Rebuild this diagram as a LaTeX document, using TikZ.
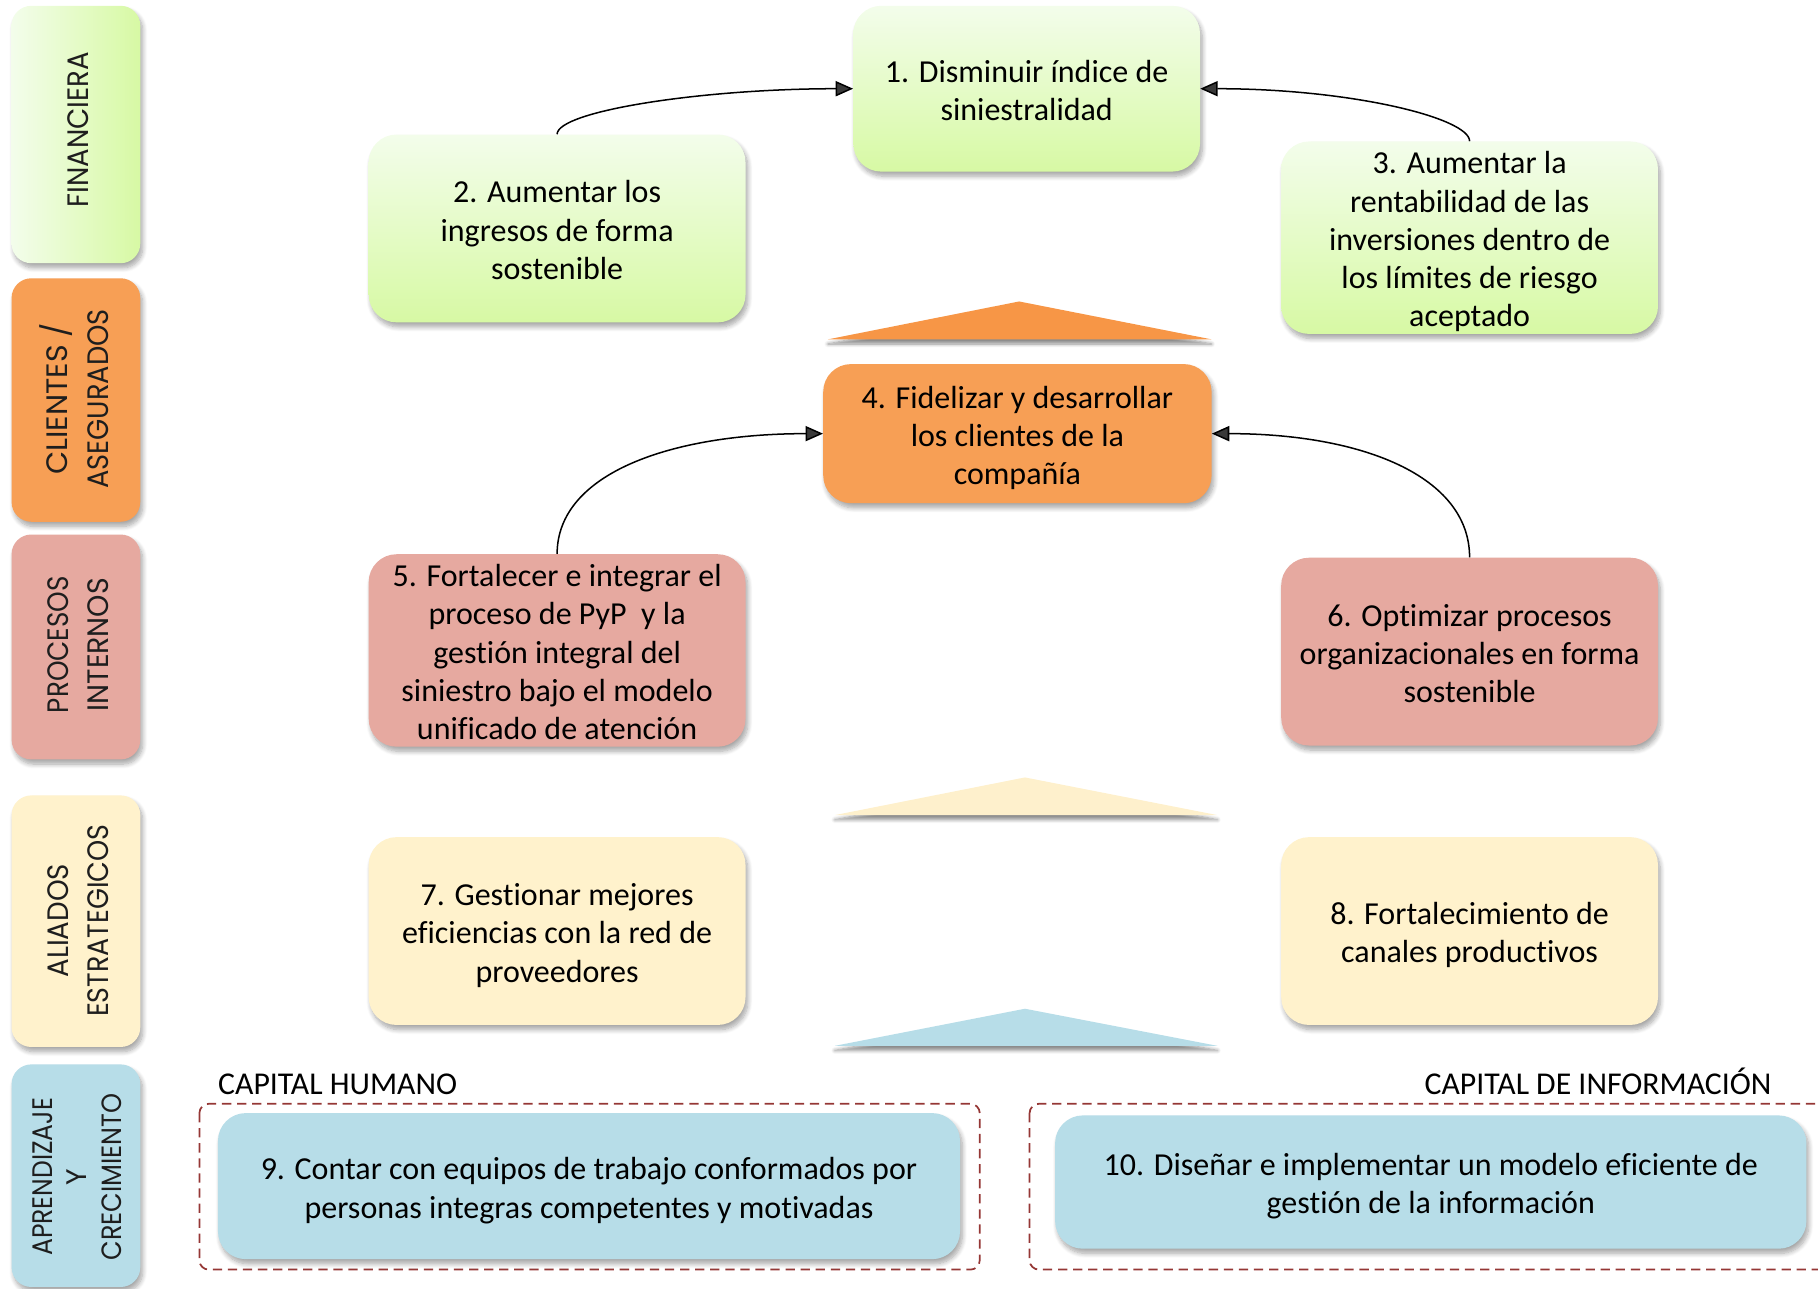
\documentclass[tikz,border=0pt]{standalone}
\usepackage{fontspec}
\setmainfont{Carlito}[Ligatures={NoCommon}]
\newfontfamily\sidefont{Poppins}
\usepackage{graphicx}
\usetikzlibrary{arrows.meta,shadows.blur}

\definecolor{gtop}{HTML}{F3FDEB}
\definecolor{gbot}{HTML}{D7F9A4}
\definecolor{orangebox}{HTML}{F79F55}
\definecolor{orangetri}{HTML}{F79646}
\definecolor{pinkbox}{HTML}{E6A9A0}
\definecolor{creambox}{HTML}{FFF2CC}
\definecolor{creamtri}{HTML}{FEF0CC}
\definecolor{bluebox}{HTML}{B7DDE8}
\definecolor{dashred}{HTML}{953735}
\definecolor{sidetext}{HTML}{1E1E1E}

\newcommand\sidelbl[3]{\resizebox{#1pt}{#2pt}{\sidefont #3}}
\newcommand\topstrut{\rule{0pt}{28pt}}
\newcommand\botstrut{\rule[-6pt]{0pt}{6pt}}

\tikzset{
  shd/.style={blur shadow={shadow xshift=2pt, shadow yshift=-4pt, shadow blur radius=4pt, shadow blur steps=8, shadow opacity=35}},
  goal/.style={shape=rectangle, rounded corners=24pt, align=center, inner sep=0pt,
    font=\fontsize{27.6}{33}\selectfont, text=black, shd},
  greengoal/.style={goal, top color=gtop, bottom color=gbot},
  sidebar/.style={shape=rectangle, rounded corners=17pt, inner sep=0pt, minimum width=111pt, shd},
  sidetxt/.style={rotate=90, align=center, inner sep=0pt, text=sidetext},
  conn/.style={line width=1.3pt, -{Triangle[length=15pt,width=13pt]}},
  dashbox/.style={draw=dashred, line width=1.5pt, dash pattern=on 8pt off 5pt, rounded corners=8pt},
  caplbl/.style={font=\fontsize{27.4}{33}\selectfont, inner sep=0pt},
  tri/.style={blur shadow={shadow xshift=0pt, shadow yshift=-4pt, shadow blur radius=3pt, shadow blur steps=6, shadow opacity=45}}
}

\begin{document}
\begin{tikzpicture}[x=1pt,y=-1pt]
\useasboundingbox (0,0) rectangle (1568,1111.7);

% side bars
\node[sidebar, left color=gtop, right color=gbot, minimum height=222pt] (s1) at (65.5,116) {};
\node[sidebar, fill=orangebox, minimum height=210pt] (s2) at (65.5,345) {};
\node[sidebar, fill=pinkbox, minimum height=194pt] (s3) at (65.5,558) {};
\node[sidebar, fill=creambox, minimum height=217pt] (s4) at (65.5,794.5) {};
\node[sidebar, fill=bluebox, minimum height=192pt] (s5) at (65.5,1014) {};

\node[sidetxt, font=\fontsize{25}{36}\selectfont] (l1) at (67,112) {\sidelbl{134}{18}{FINANCIERA}};
\node[sidetxt, font=\fontsize{25}{36}\selectfont] (l2) at (67,344) {\sidelbl{131}{18}{CLIENTES \smash{/}}\\\sidelbl{155}{18}{ASEGURADOS}};
\node[sidetxt, font=\fontsize{25}{35}\selectfont] (l3) at (67.5,556) {\sidelbl{118}{18}{PROCESOS}\\\sidelbl{115}{18}{INTERNOS}};
\node[sidetxt, font=\fontsize{25}{35}\selectfont] (l4) at (67.5,794) {\sidelbl{98}{18}{ALIADOS}\\\sidelbl{166}{18}{ESTRATEGICOS}};
\node[sidetxt, font=\fontsize{25}{29.5}\selectfont] (l5) at (66.5,1015) {\sidelbl{136}{17}{APRENDIZAJE}\\\resizebox{!}{17pt}{\sidefont Y}\\\sidelbl{144}{17}{CRECIMIENTO}};

% triangles
\fill[orangetri, tri] (714,292.7) -- (879,260) -- (1045,292.7) -- cycle;
\fill[creamtri, tri] (720,703) -- (884,670.5) -- (1050,703) -- cycle;
\fill[bluebox, tri] (720,902) -- (884,870) -- (1050,902) -- cycle;

% goal boxes
\node[greengoal, minimum width=299pt, minimum height=143pt] (b1) at (885.5,76.5)
  {\topstrut 1. Disminuir índice de\\siniestralidad\botstrut};
\node[greengoal, minimum width=325pt, minimum height=162pt] (b2) at (480.5,197)
  {\topstrut 2. Aumentar los\\ingresos de forma\\sostenible\botstrut};
\node[greengoal, minimum width=325pt, minimum height=164pt] (b3) at (1267.5,205)
  {\topstrut 3. Aumentar la\\rentabilidad de las\\inversiones dentro de\\los límites de riesgo\\aceptado\botstrut};
\node[goal, fill=orangebox, minimum width=335pt, minimum height=120pt] (b4) at (877.5,374)
  {\topstrut 4. Fidelizar y desarrollar\\los clientes de la\\compañía\botstrut};
\node[goal, fill=pinkbox, minimum width=325pt, minimum height=162pt] (b5) at (480.5,561)
  {\topstrut 5. Fortalecer e integrar el\\proceso de PyP\ \ y la\\gestión integral del\\siniestro bajo el modelo\\unificado de atención\botstrut};
\node[goal, fill=pinkbox, minimum width=325pt, minimum height=162pt] (b6) at (1267.5,562)
  {\topstrut 6. Optimizar procesos\\organizacionales en forma\\sostenible\botstrut};
\node[goal, fill=creambox, minimum width=325pt, minimum height=162pt] (b7) at (480.5,803)
  {\topstrut 7. Gestionar mejores\\eficiencias con la red de\\proveedores\botstrut};
\node[goal, fill=creambox, minimum width=325pt, minimum height=162pt] (b8) at (1267.5,803)
  {\topstrut 8. Fortalecimiento de\\canales productivos\botstrut};

% dashed groups
\draw[dashbox] (172,952) rectangle (845,1095);
\begin{scope}
\clip (0,0) rectangle (1568,1111.7);
\draw[dashbox] (888,952) rectangle (1600,1095);
\end{scope}

\node[caplbl, anchor=base west] (ch) at (188,944) {CAPITAL HUMANO};
\node[caplbl, anchor=base east] (ci) at (1528,944) {CAPITAL DE INFORMACIÓN};

\node[goal, fill=bluebox, minimum width=640pt, minimum height=126pt] (b9) at (508,1023)
  {\topstrut 9. Contar con equipos de trabajo conformados por\\personas integras competentes y motivadas\botstrut};
\node[goal, fill=bluebox, minimum width=648pt, minimum height=115pt] (b10) at (1234,1019.5)
  {\topstrut 10. Diseñar e implementar un modelo eficiente de\\gestión de la información\botstrut};

% connectors
\draw[conn] (b2.north) .. controls +(0,-20) and +(-130,0) .. (b1.west);
\draw[conn] (b3.north) .. controls +(0,-20) and +(130,0) .. (b1.east);
\draw[conn] (b5.north) .. controls +(0,-70) and +(-130,0) .. (b4.west);
\draw[conn] (b6.north) .. controls +(0,-70) and +(130,0) .. (b4.east);
\end{tikzpicture}
\end{document}
